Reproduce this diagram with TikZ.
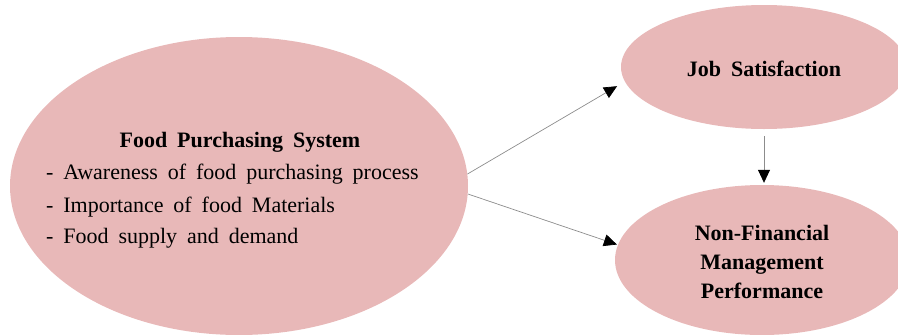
\documentclass[tikz,border=0pt]{standalone}
\usepackage{fontspec}
\setmainfont{Liberation Serif}
\usetikzlibrary{shapes.geometric,arrows.meta}
\definecolor{pinkfill}{RGB}{232,184,184}
\definecolor{linegray}{RGB}{140,140,140}
\newcommand{\gap}{\hspace{0.45em}}
\tikzset{
  oval/.style={ellipse, fill=pinkfill, draw=none, inner sep=0pt},
  bodytext/.style={font=\fontsize{22}{29}\selectfont, inner sep=0pt},
  headtext/.style={font=\fontsize{22}{29}\selectfont\bfseries, inner sep=0pt, align=center},
  link/.style={draw=linegray, line width=0.7pt, -{Triangle[length=13pt,width=12pt,color=black,fill=black]}}
}
\begin{document}
\begin{tikzpicture}[x=1pt,y=-1pt]
\useasboundingbox (0,0) rectangle (898,335);
\node[oval, minimum width=458pt, minimum height=298pt] (fps) at (239,186) {};
\node[oval, minimum width=286pt, minimum height=124pt] (js) at (764,67) {};
\node[oval, minimum width=294pt, minimum height=150pt] (nf) at (762,260) {};
\node[headtext, anchor=base] (fpst) at (240,147) {Food\gap Purchasing\gap System};
\node[bodytext, anchor=base west] (l1) at (46,179) {-\gap Awareness\gap of\gap food\gap purchasing\gap process};
\node[bodytext, anchor=base west] (l2) at (46,212) {-\gap Importance\gap of\gap food\gap Materials};
\node[bodytext, anchor=base west] (l3) at (46,243) {-\gap Food\gap supply\gap and\gap demand};
\node[headtext, anchor=base] (jst) at (764,76) {Job\gap Satisfaction};
\node[headtext, anchor=base] (nf1) at (762,240) {Non-Financial};
\node[headtext, anchor=base] (nf2) at (762,269) {Management};
\node[headtext, anchor=base] (nf3) at (762,298) {Performance};
\draw[link, shorten >=9pt] (fps.3) -- (js.186);
\draw[link, shorten >=1pt] (fps.-2.5) -- (nf.174);
\draw[link, shorten <=7pt, shorten >=2pt] (js.south) -- (js.south |- nf.north);
\end{tikzpicture}
\end{document}
